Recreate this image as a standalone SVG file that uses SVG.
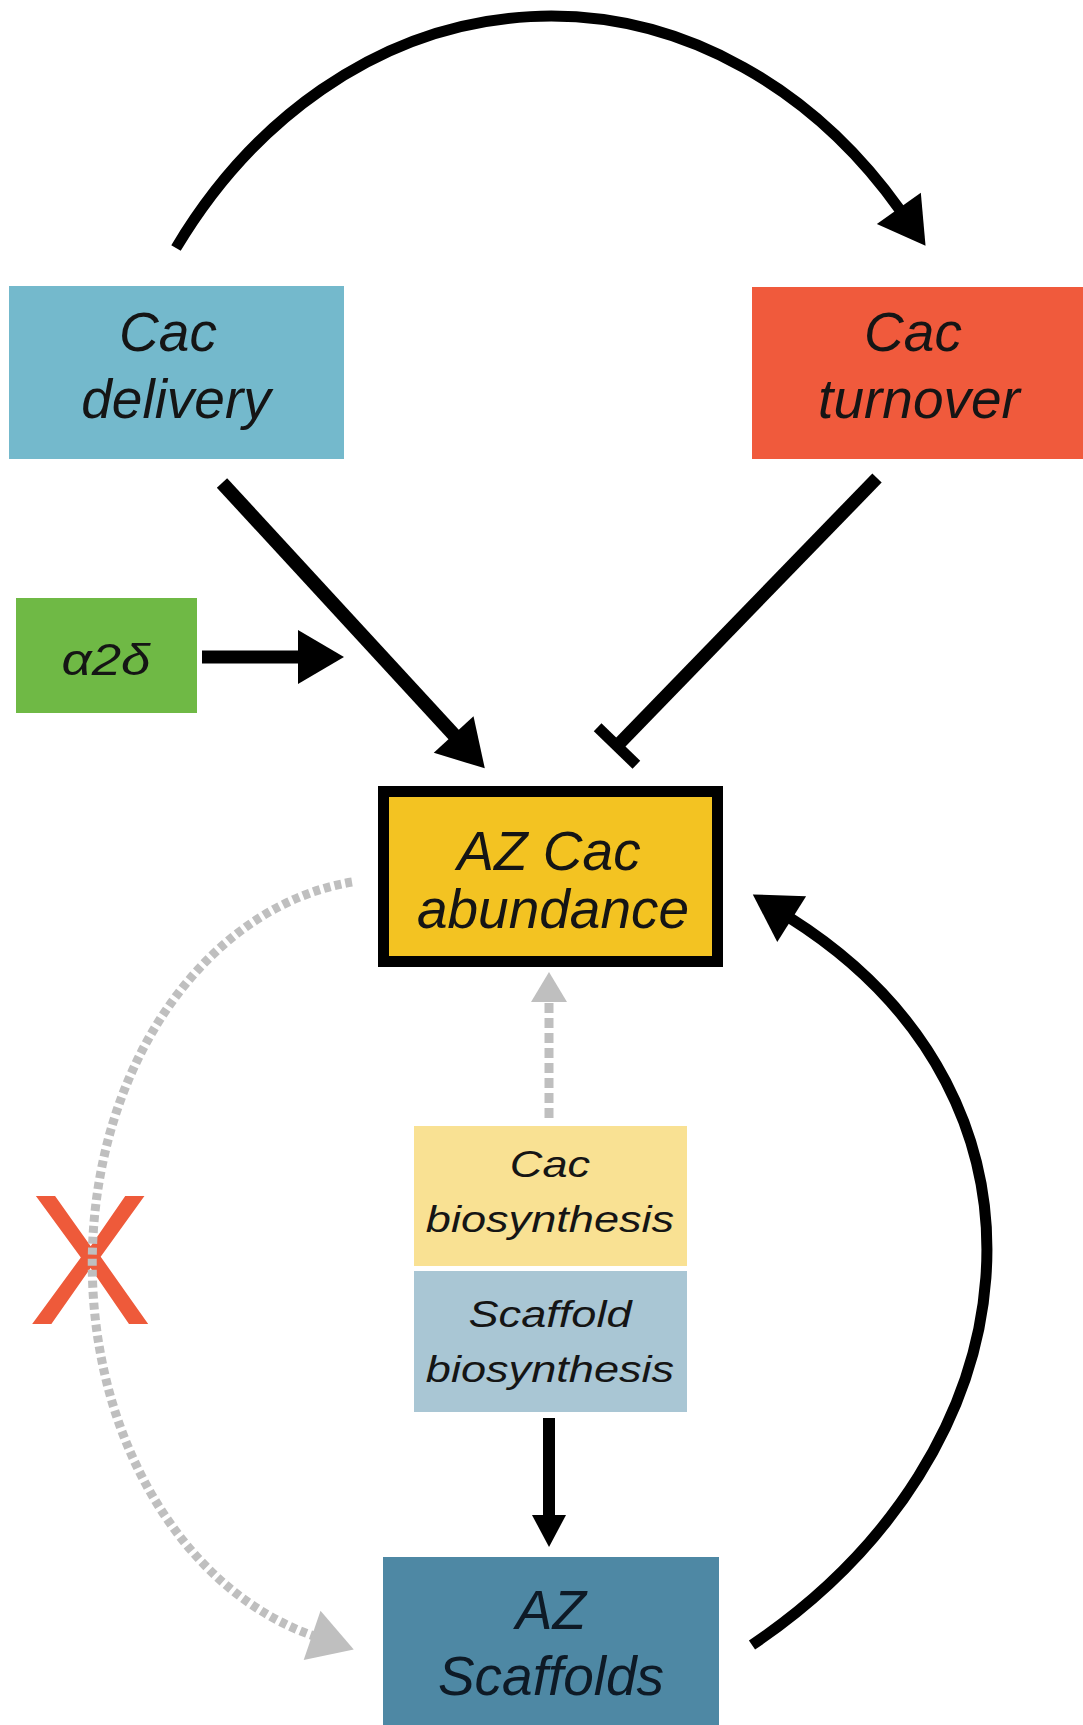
<svg xmlns="http://www.w3.org/2000/svg" width="1083" height="1725" viewBox="0 0 1083 1725">
<style>
  .lbl { font-family: "Liberation Sans", Arial, sans-serif; font-style: italic; fill: #151515; text-anchor: middle; }
  .big { font-size: 55px; }
  .small { font-size: 37px; }
  .blk { fill: none; stroke: #000; }
  .gry { fill: none; stroke: #BFBFBF; }
</style>
<defs>
  <marker id="ah" markerUnits="userSpaceOnUse" markerWidth="46" markerHeight="54" refX="2" refY="27" orient="auto" overflow="visible">
    <path d="M0,0 L46,27 L0,54 Z" fill="#000"/>
  </marker>
  <marker id="ahs" markerUnits="userSpaceOnUse" markerWidth="32" markerHeight="34" refX="2" refY="17" orient="auto" overflow="visible">
    <path d="M0,0 L32,17 L0,34 Z" fill="#000"/>
  </marker>
  <marker id="ahg" markerUnits="userSpaceOnUse" markerWidth="44" markerHeight="52" refX="2" refY="26" orient="auto" overflow="visible">
    <path d="M0,0 L44,26 L0,52 Z" fill="#BFBFBF"/>
  </marker>
  <marker id="ahgs" markerUnits="userSpaceOnUse" markerWidth="30" markerHeight="36" refX="2" refY="18" orient="auto" overflow="visible">
    <path d="M0,0 L30,18 L0,36 Z" fill="#BFBFBF"/>
  </marker>
  <marker id="tee" markerUnits="userSpaceOnUse" markerWidth="11" markerHeight="54" refX="5.5" refY="27" orient="auto" overflow="visible">
    <rect x="0" y="0" width="11" height="54" fill="#000"/>
  </marker>
</defs>
<rect width="1083" height="1725" fill="#fff"/>

<text id="x-mark" x="90" y="1324" font-family="Liberation Sans, Arial, sans-serif" font-size="186" fill="#EE5A3A" text-anchor="middle">X</text>

<g id="connectors">
  <path class="blk" stroke-width="11" d="M176,248 A462,560 0 0 1 900,210" marker-end="url(#ah)"/>
  <path class="blk" stroke-width="14" d="M222,483 L455,736" marker-end="url(#ah)"/>
  <path class="blk" stroke-width="13" d="M202,657 L300,657" marker-end="url(#ah)"/>
  <path class="blk" stroke-width="13" d="M877,478 L617,746" marker-end="url(#tee)"/>
  <path class="blk" stroke-width="11" d="M752,1645 C1037,1453 1078,1100 790,918" marker-end="url(#ah)"/>
  <path class="blk" stroke-width="12" d="M549,1418 L549,1517" marker-end="url(#ahs)"/>
  <path class="gry" stroke-width="9" stroke-dasharray="10 5" d="M549,1118 L549,1000" marker-end="url(#ahgs)"/>
  <path class="gry" stroke-width="9" stroke-dasharray="7 4" d="M352,882 A298,385 0 0 0 314,1636" marker-end="url(#ahg)"/>
</g>

<g id="node-cac-delivery">
  <rect x="9" y="286" width="335" height="173" fill="#74B9CC"/>
  <text class="lbl big" x="168" y="351">Cac</text>
  <text class="lbl big" x="176" y="418">delivery</text>
</g>

<g id="node-cac-turnover">
  <rect x="752" y="287" width="331" height="172" fill="#F05A3C"/>
  <text class="lbl big" x="913" y="351">Cac</text>
  <text class="lbl big" x="919" y="418">turnover</text>
</g>

<g id="node-a2d">
  <rect x="16" y="598" width="181" height="115" fill="#6FB945"/>
  <g transform="translate(106 0) scale(1.2 1)">
    <text class="lbl" x="0" y="675" font-size="44">α2δ</text>
  </g>
</g>

<g id="node-az-cac-abundance">
  <rect x="383.5" y="791.5" width="334" height="170" fill="#F3C322" stroke="#000" stroke-width="11"/>
  <text class="lbl big" x="549" y="870">AZ Cac</text>
  <text class="lbl big" x="553" y="928">abundance</text>
</g>

<g id="node-cac-biosynthesis">
  <rect x="414" y="1126" width="273" height="140" fill="#F9E193"/>
  <g transform="translate(550 0) scale(1.22 1)">
    <text class="lbl small" x="0" y="1177">Cac</text>
    <text class="lbl small" x="0" y="1232">biosynthesis</text>
  </g>
</g>

<g id="node-scaffold-biosynthesis">
  <rect x="414" y="1271" width="273" height="141" fill="#A9C6D4"/>
  <g transform="translate(550 0) scale(1.22 1)">
    <text class="lbl small" x="0" y="1327">Scaffold</text>
    <text class="lbl small" x="0" y="1382">biosynthesis</text>
  </g>
</g>

<g id="node-az-scaffolds">
  <rect x="383" y="1557" width="336" height="168" fill="#4E88A4"/>
  <text class="lbl big" x="551" y="1629" style="fill:#0E1A26">AZ</text>
  <text class="lbl big" x="551" y="1695" style="fill:#0E1A26">Scaffolds</text>
</g>
</svg>
